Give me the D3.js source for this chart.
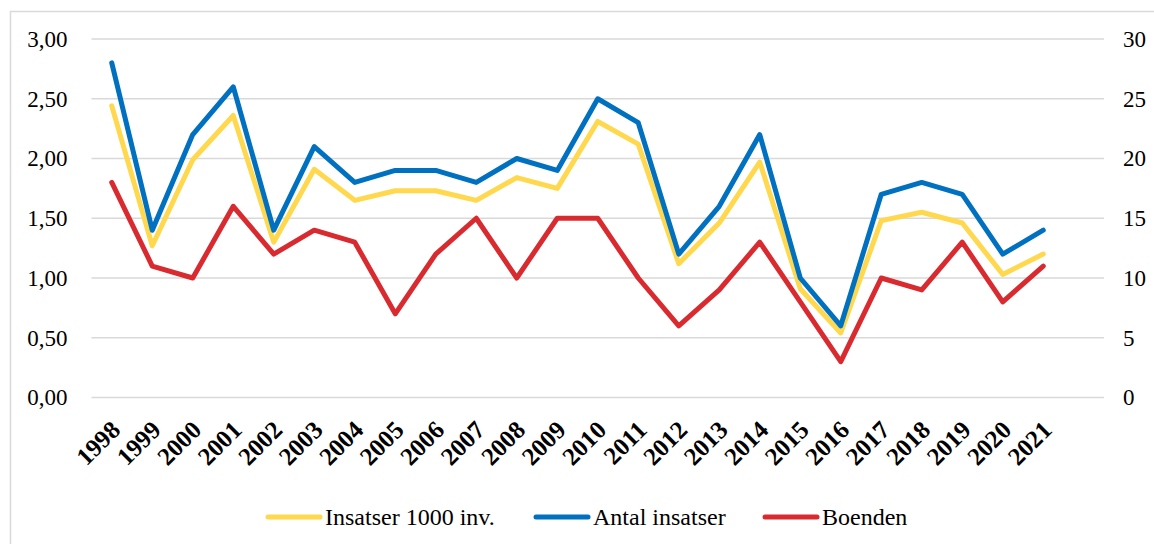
<!DOCTYPE html>
<html>
<head>
<meta charset="utf-8">
<script src="https://cdn.jsdelivr.net/npm/d3@7"></script>
<style>
  body { margin: 0; background: #fff; }
  svg { display: block; font-family: "Liberation Serif", "DejaVu Serif", serif; }
</style>
</head>
<body>
<div id="chart"></div>
<script>
// data
const years = ["1998","1999","2000","2001","2002","2003","2004","2005","2006","2007","2008","2009",
               "2010","2011","2012","2013","2014","2015","2016","2017","2018","2019","2020","2021"];
const insatser1000 = [2.44,1.27,1.99,2.36,1.30,1.91,1.65,1.73,1.73,1.65,1.84,1.75,
                      2.31,2.12,1.12,1.46,1.97,0.91,0.54,1.48,1.55,1.46,1.03,1.20];
const antalInsatser = [28,14,22,26,14,21,18,19,19,18,20,19,25,23,12,16,22,10,6,17,18,17,12,14];
const boenden = [18,11,10,16,12,14,13,7,12,15,10,15,15,10,6,9,13,8,3,10,9,13,8,11];
const leftTicks = [0, 0.5, 1, 1.5, 2, 2.5, 3];
const rightTicks = [0, 5, 10, 15, 20, 25, 30];

const width = 1154, height = 544;
const plotL = 91.5, plotR = 1104, plotT = 39, plotB = 397.5;
const fontFam = '"Liberation Serif", "DejaVu Serif", serif';

const svg = d3.select("#chart").append("svg")
    .attr("width", width)
    .attr("height", height);

// chart frame
svg.append("rect")
    .attr("x", 10.5).attr("y", 11.5)
    .attr("width", 1200).attr("height", 600)
    .attr("fill", "none")
    .attr("stroke", "#d9d9d9")
    .attr("stroke-width", 1.5);

// one empty slot after 2021, as in the original
const step = (plotR - plotL) / (years.length + 1);
const x = d3.scaleBand()
    .domain(years)
    .range([plotL, plotL + step * years.length]);
const cx = d => x(d) + x.bandwidth() / 2;

const yL = d3.scaleLinear().domain([0, 3]).range([plotB, plotT]);
const yR = d3.scaleLinear().domain([0, 30]).range([plotB, plotT]);

// gridlines
svg.append("g")
    .selectAll("line")
    .data(leftTicks)
    .join("line")
    .attr("x1", plotL).attr("x2", plotR)
    .attr("y1", d => yL(d)).attr("y2", d => yL(d))
    .attr("stroke", "#d9d9d9")
    .attr("stroke-width", 1.5);

const fmtL = d => d3.format(".2f")(d).replace(".", ",");

// left axis
const axL = svg.append("g")
    .attr("transform", `translate(${plotL},0)`)
    .call(d3.axisLeft(yL).tickValues(leftTicks).tickFormat(fmtL).tickSize(0).tickPadding(24));
axL.select(".domain").remove();
axL.attr("font-family", fontFam);
axL.selectAll("text").attr("font-size", 23).attr("fill", "#000");

// right axis
const axR = svg.append("g")
    .attr("transform", `translate(${plotR},0)`)
    .call(d3.axisRight(yR).tickValues(rightTicks).tickSize(0).tickPadding(19));
axR.select(".domain").remove();
axR.attr("font-family", fontFam);
axR.selectAll("text").attr("font-size", 23).attr("fill", "#000");

// year labels, rotated
svg.append("g")
    .selectAll("text")
    .data(years)
    .join("text")
    .attr("transform", d => `translate(${cx(d) + 10},${plotB + 34}) rotate(-45)`)
    .attr("text-anchor", "end")
    .attr("font-size", 25)
    .attr("font-weight", "bold")
    .text(d => d);

const series = [
    { name: "Insatser 1000 inv.", values: insatser1000, y: yL, color: "#ffd84e" },
    { name: "Antal insatser", values: antalInsatser, y: yR, color: "#0070c0" },
    { name: "Boenden", values: boenden, y: yR, color: "#d92b2f" }
];

// draw lines: red first, then yellow, blue on top
[series[2], series[0], series[1]].forEach(s => {
    const line = d3.line()
        .x((v, i) => cx(years[i]))
        .y(v => s.y(v));
    svg.append("path")
        .datum(s.values)
        .attr("d", line)
        .attr("fill", "none")
        .attr("stroke", s.color)
        .attr("stroke-width", 5)
        .attr("stroke-linejoin", "round")
        .attr("stroke-linecap", "round");
});

// legend
const legendX = [268, 536, 765];
const legend = svg.append("g")
    .selectAll("g")
    .data(series)
    .join("g")
    .attr("transform", (d, i) => `translate(${legendX[i]},517)`);
legend.append("line")
    .attr("x1", 0).attr("x2", 52)
    .attr("stroke", d => d.color)
    .attr("stroke-width", 5)
    .attr("stroke-linecap", "round");
legend.append("text")
    .attr("x", 57)
    .attr("dy", "0.35em")
    .attr("font-size", 24)
    .text(d => d.name);
</script>
</body>
</html>
